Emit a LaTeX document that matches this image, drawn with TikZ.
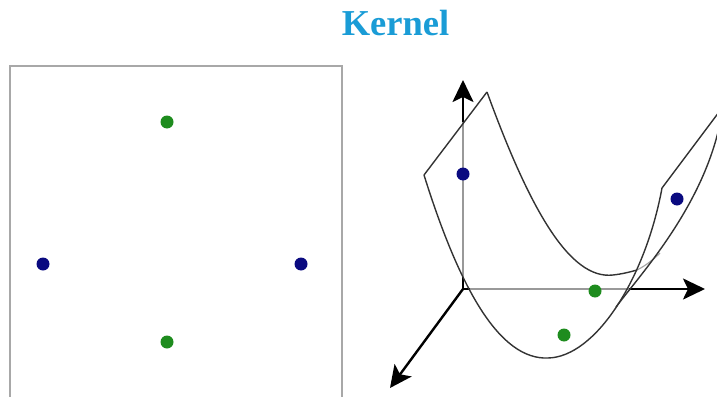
\documentclass[tikz,border=0pt]{standalone}
\usepackage{fontspec}
\setmainfont{Liberation Serif}
\usetikzlibrary{arrows.meta}
\definecolor{kerBlue}{HTML}{1A9CD6}
\definecolor{kerNavy}{HTML}{0A0A80}
\definecolor{kerGreen}{HTML}{1E8C1E}
\definecolor{kerFrame}{HTML}{A8A8A8}
\definecolor{kerLine}{HTML}{333333}
\tikzset{
  >={Stealth[length=22pt,width=21pt,inset=5pt]},
  pt/.style={circle, inner sep=0pt, minimum size=13pt},
  navy/.style={pt, fill=kerNavy},
  grn/.style={pt, fill=kerGreen},
  axis/.style={->, line width=2.4pt, draw=black},
  seen/.style={line width=2pt, draw=black!40},
  sheet/.style={line width=1.4pt, draw=kerLine},
  frame/.style={line width=1.3pt, draw=kerFrame},
}

\begin{document}
\begin{tikzpicture}[x=1pt,y=-1pt]
    \useasboundingbox (0,0) rectangle (717,396);
    \node[font=\bfseries\fontsize{36.5}{40}\selectfont, text=kerBlue, anchor=base]
         (title) at (395.5,36) {Kernel};

    % input space
    \draw[frame] (10,400) |- (342,66) -- (342,400);
    \node[grn]  (g1) at (167,122) {};
    \node[navy] (b1) at (43,264) {};
    \node[navy] (b2) at (301,264) {};
    \node[grn]  (g2) at (167,342) {};

    % feature space axes
    \coordinate (o) at (463,289);
    \coordinate (zt) at (463,80);
    \coordinate (xt) at (705,289);
    \coordinate (yt) at (390,388);
    \coordinate (zin) at (463,122);
    \coordinate (zlo) at (463,277);
    \coordinate (xlo) at (470,289);
    \coordinate (xin) at (629,289);
    \draw[seen] (zlo) -- (zin);
    \draw[seen] (xlo) -- (xin);
    \draw[axis] (zin) -- (zt);
    \draw[line width=2.4pt] (zlo) -- (o) -- (xlo);
    \draw[axis] (xin) -- (xt);
    \draw[axis] (o) -- (yt);

    % the lifted sheet
    \coordinate (lb) at (487,92);
    \coordinate (lf) at (424,175);
    \coordinate (rf) at (662,188);
    \coordinate (rb) at (719,112);
    \coordinate (bm) at (613,275);
    \coordinate (bs) at (637,270);
    \coordinate (bj) at (660,253);
    \coordinate (fm) at (548,358);
    \coordinate (fj) at (616,307);
    \draw[sheet] (lf) -- (lb);
    \draw[sheet] (lb) .. controls (530,210) and (570,280) .. (bm)
                      .. controls (622,274) and (630,272) .. (bs);
    \draw[line width=1.2pt, draw=black!35] (bs) .. controls (645,266) and (653,260) .. (bj);
    \draw[sheet] (lf) .. controls (460,290) and (500,360) .. (fm)
                      .. controls (595,357) and (645,280) .. (rf);
    \draw[sheet] (fj) .. controls (640,275) and (700,210) .. (719,128);
    \draw[sheet] (rf) -- (rb);

    \node[navy] (b3) at (463,174) {};
    \node[navy] (b4) at (677,199) {};
    \node[grn]  (g3) at (595,291) {};
    \node[grn]  (g4) at (564,335) {};
\end{tikzpicture}
\end{document}
